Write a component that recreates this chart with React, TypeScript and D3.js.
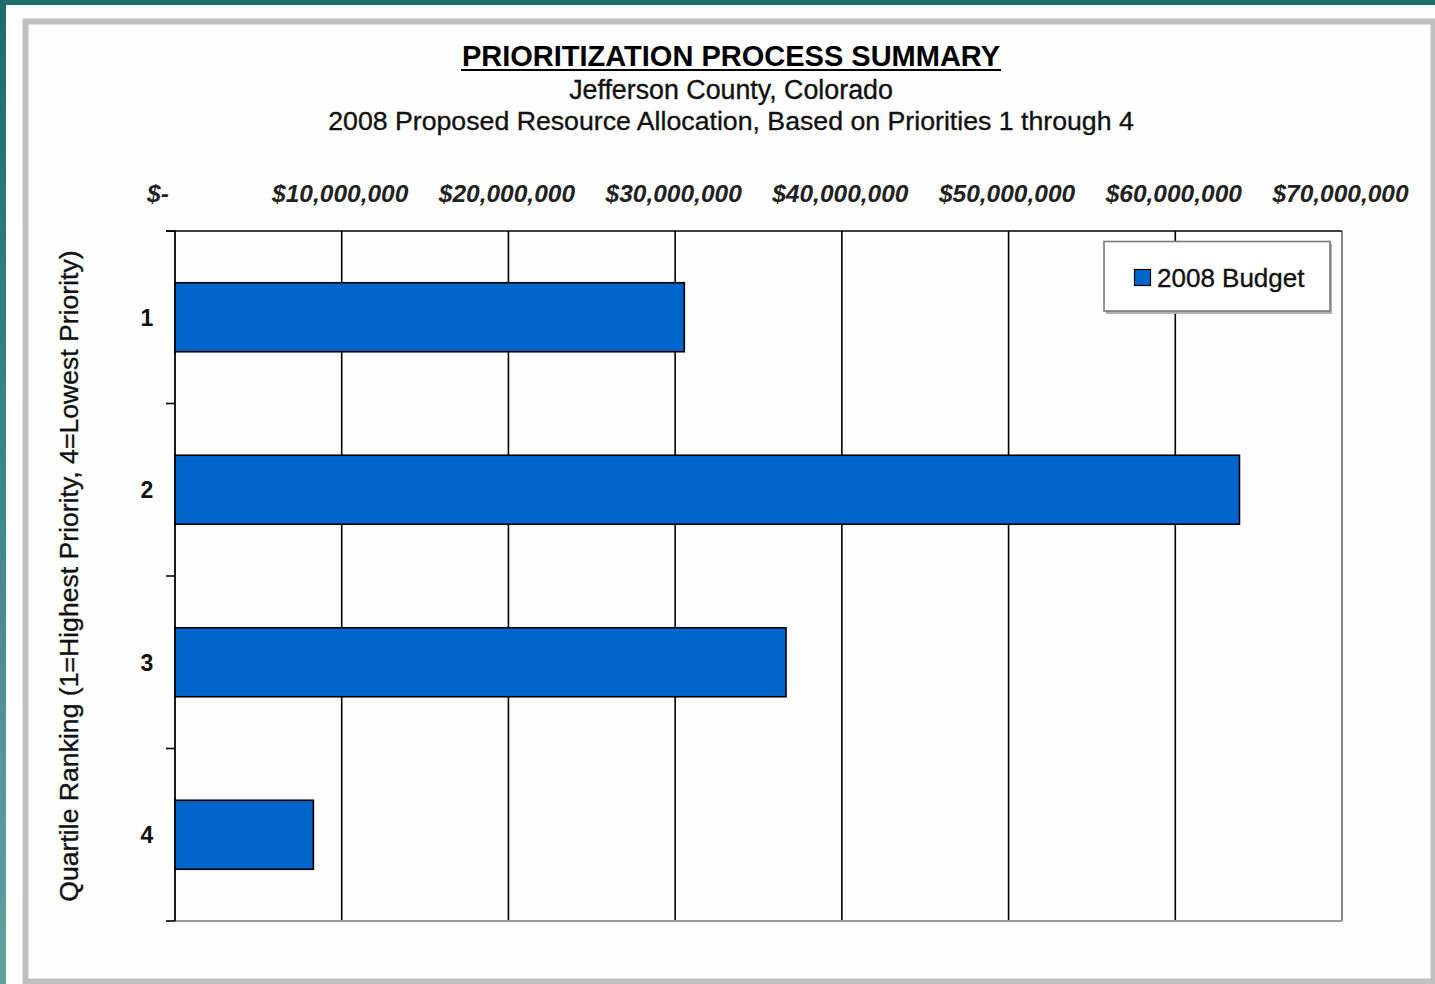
import React from "react";
import * as d3 from "d3";

const categories = ["1", "2", "3", "4"];
const budget2008 = [30550000, 63850000, 36650000, 8300000];
const xTicks = [0, 10000000, 20000000, 30000000, 40000000, 50000000, 60000000, 70000000];
const seriesName = "2008 Budget";
const title = "PRIORITIZATION PROCESS SUMMARY";
const subtitle1 = "Jefferson County, Colorado";
const subtitle2 = "2008 Proposed Resource Allocation, Based on Priorities 1 through 4";
const yTitle = "Quartile Ranking (1=Highest Priority, 4=Lowest Priority)";

const W = 1435;
const H = 984;
const FONT = "'Liberation Sans', Arial, sans-serif";

export default function App() {
  const x = d3.scaleLinear().domain([0, 70000000]).range([175, 1342]);
  const y = d3
    .scaleBand<string>()
    .domain(categories)
    .range([231, 921])
    .paddingInner(0.6)
    .paddingOuter(0.3);
  const [y0, y1] = y.range();
  const boundaries = d3.range(categories.length + 1).map((i) => y0 + i * y.step());
  const fmt = d3.format(",");
  const label = (v: number) => (v === 0 ? "$-" : "$" + fmt(v));

  return (
    <svg
      width={W}
      height={H}
      style={{ position: "absolute", left: 0, top: 0, display: "block" }}
      fontFamily={FONT}
    >
      <defs>
        <linearGradient id="tealLeft" x1="0" y1="0" x2="0" y2="1">
          <stop offset="0" stopColor="#1e6c6d" />
          <stop offset="1" stopColor="#61a2a2" />
        </linearGradient>
      </defs>
      <rect x={0} y={0} width={W} height={H} fill="#ffffff" />
      {/* teal page edge */}
      <rect x={0} y={0} width={W} height={5} fill="#1f6e6e" />
      <rect x={0} y={0} width={6} height={H} fill="url(#tealLeft)" />
      {/* grey frame */}
      <rect x={25.5} y={21.5} width={1408} height={960} fill="none" stroke="#c0c0c0" strokeWidth={6} />
      <rect x={29} y={25} width={1401} height={953} fill="#fefefe" />

      {/* title */}
      <text x={731} y={66} textAnchor="middle" fontSize={29} fontWeight="bold" fill="#000">
        {title}
      </text>
      <line x1={461} x2={1001} y1={70} y2={70} stroke="#000" strokeWidth={2} />
      <text x={731} y={99} textAnchor="middle" fontSize={26.8} fill="#111" stroke="#111" strokeWidth={0.35}>
        {subtitle1}
      </text>
      <text x={731} y={130} textAnchor="middle" fontSize={26.7} fill="#111" stroke="#111" strokeWidth={0.35}>
        {subtitle2}
      </text>

      {/* gridlines */}
      {xTicks.slice(1, -1).map((t) => (
        <line key={"g" + t} x1={x(t)} x2={x(t)} y1={y0} y2={y1} stroke="#000" strokeWidth={1.6} />
      ))}
      {/* plot border */}
      <line x1={x(70000000)} x2={x(70000000)} y1={y0} y2={y1} stroke="#7a7a7a" strokeWidth={1.8} />
      <line x1={x(0)} x2={x(70000000)} y1={y1} y2={y1} stroke="#9a9a9a" strokeWidth={1.8} />
      {/* top axis line */}
      <line x1={166} x2={x(70000000)} y1={y0} y2={y0} stroke="#000" strokeWidth={1.6} />
      {/* left axis */}
      <line x1={x(0)} x2={x(0)} y1={y0} y2={y1} stroke="#000" strokeWidth={1.8} />
      {boundaries.map((b, i) => (
        <line key={"yt" + i} x1={166} x2={x(0)} y1={b} y2={b} stroke="#000" strokeWidth={1.6} />
      ))}

      {/* x tick labels */}
      {xTicks.map((t) => (
        <text
          key={"xl" + t}
          x={x(t) + (t === 0 ? -17 : -1.5)}
          y={202}
          textAnchor="middle"
          fontSize={24.5}
          fontWeight="bold"
          fontStyle="italic"
          fill="#222"
        >
          {label(t)}
        </text>
      ))}

      {/* bars */}
      {categories.map((c, i) => (
        <rect
          key={"b" + c}
          x={x(0)}
          y={y(c)!}
          width={x(budget2008[i]) - x(0)}
          height={y.bandwidth()}
          fill="#0066cc"
          stroke="#000"
          strokeWidth={1.6}
        />
      ))}

      {/* y category labels */}
      {categories.map((c) => (
        <text
          key={"yl" + c}
          x={147}
          y={y(c)! + y.bandwidth() / 2}
          dy="0.36em"
          textAnchor="middle"
          fontSize={23}
          fontWeight="bold"
          fill="#111"
        >
          {c}
        </text>
      ))}

      {/* y axis title */}
      <text
        transform={`translate(78,${(y0 + y1) / 2}) rotate(-90)`}
        textAnchor="middle"
        fontSize={26.6}
        fill="#111"
        stroke="#111"
        strokeWidth={0.35}
      >
        {yTitle}
      </text>

      {/* legend */}
      <rect x={1106} y={244} width={226} height={70} fill="#b0b0b0" />
      <rect x={1104} y={241.5} width={226} height={69.5} fill="#fff" stroke="#7a7a7a" strokeWidth={1.6} />
      <rect x={1134.5} y={269.5} width={16} height={16} fill="#0066cc" stroke="#000" strokeWidth={1.2} />
      <text x={1157} y={287} fontSize={26} fill="#111" stroke="#111" strokeWidth={0.35}>
        {seriesName}
      </text>
    </svg>
  );
}
